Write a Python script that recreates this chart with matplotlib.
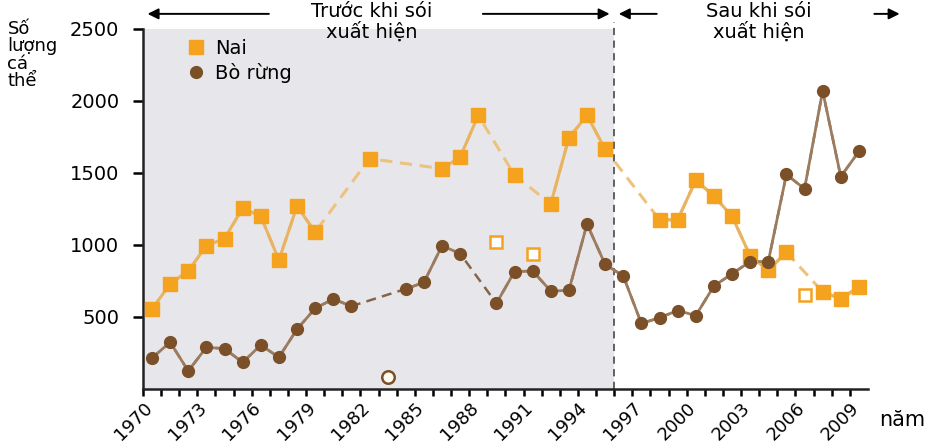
import matplotlib.pyplot as plt
from matplotlib.lines import Line2D
import numpy as np

nan = np.nan
years = np.arange(1970, 2010)

# Nai (deer) - nan = no count that year
nai = [555, 730, 820, 995, 1045, 1255, 1200, 895, 1270, 1090,
       nan, nan, 1600, nan, nan, nan, 1530, 1610, 1900, nan,
       1485, nan, 1285, 1745, 1900, 1665, nan, nan, 1175, 1175,
       1450, 1340, 1200, 925, 825, 950, nan, 675, 625, 710]
# Bo rung (bison)
bo = [215, 325, 125, 290, 280, 185, 305, 220, 415, 560,
      625, 575, nan, nan, 695, 740, 995, 940, nan, 595,
      815, 820, 680, 685, 1145, 865, 785, 455, 495, 545,
      510, 715, 800, 885, 885, 1490, 1390, 2070, 1475, 1650]

# hollow markers (uncertain counts)
nai_hollow_years = [1989, 1991, 2006]
nai_hollow = [1020, 940, 655]
bo_hollow_years = [1983]
bo_hollow = [85]

yticks = [500, 1000, 1500, 2000, 2500]
xlabels = list(range(1970, 2010, 3))
wolf_year = 1996

orange = '#F5A31E'
orange_line = '#E9B462'
orange_dash = '#EDC27E'
brown = '#7B5028'
brown_line = '#9C7C5E'
brown_dash = '#85654A'

plt.rcParams['font.family'] = ['DejaVu Sans']

fig = plt.figure(figsize=(9.35, 4.46), dpi=100)
ax = fig.add_axes([0.1529, 0.1278, 0.7754, 0.8072])

x = years + 0.5
nai = np.array(nai, dtype=float)
bo = np.array(bo, dtype=float)

ax.axvspan(1970, wolf_year, color='#E7E7EB', zorder=0, lw=0)
ax.axvline(wolf_year, ymin=0, ymax=1.02, color='#555555', ls=(0, (4, 3)), lw=1.3, clip_on=False, zorder=1)

# dashed links across missing years, solid where consecutive
m = ~np.isnan(nai)
ax.plot(x[m], nai[m], color=orange_dash, lw=2.2, ls=(0, (4, 2.5)), zorder=2)
ax.plot(x, nai, color=orange_line, lw=2.2, zorder=3)
m = ~np.isnan(bo)
ax.plot(x[m], bo[m], color=brown_dash, lw=1.8, ls=(0, (4, 2.5)), zorder=2)
ax.plot(x, bo, color=brown_line, lw=2.0, zorder=3)

ax.plot(x, nai, ls='none', marker='s', ms=9.5, color=orange, mec=orange, zorder=4)
ax.plot(x, bo, ls='none', marker='o', ms=8.5, color=brown, mec=brown, zorder=4)
ax.plot(np.array(nai_hollow_years) + 0.5, nai_hollow, ls='none', marker='s', ms=8.5,
        mfc='white', mec=orange, mew=1.8, zorder=4)
ax.plot(np.array(bo_hollow_years) + 0.5, bo_hollow, ls='none', marker='o', ms=9,
        mfc='#FFFBEF', mec=brown, mew=1.8, zorder=4)

ax.set_xlim(1970, 2010)
ax.set_ylim(0, 2500)
ax.set_yticks(yticks)
ax.set_xticks(xlabels)
ax.set_xticks(years, minor=True)
ax.set_xticklabels([str(v) for v in xlabels], rotation=45, ha='right',
                   rotation_mode='anchor', fontsize=13)
ax.tick_params(axis='y', labelsize=14, length=7, width=1.8, pad=10, direction='out')
ax.tick_params(axis='x', which='both', length=5, width=1.8, direction='out', pad=2)
for s in ['top', 'right']:
    ax.spines[s].set_visible(False)
for s in ['left', 'bottom']:
    ax.spines[s].set_linewidth(1.8)
    ax.spines[s].set_color('#222222')

handles = [Line2D([], [], ls='none', marker='s', ms=9.5, color=orange),
           Line2D([], [], ls='none', marker='o', ms=8.5, color=brown)]
ax.legend(handles, ['Nai', 'Bò rừng'], loc='upper left', bbox_to_anchor=(0.035, 1.02),
          frameon=False, fontsize=14, handlelength=1.0, handletextpad=0.5,
          labelspacing=0.25)

fig.text(0.008, 0.955, 'Số\nlượng\ncá\nthể', fontsize=13, va='top', ha='left',
         linespacing=0.95)
fig.text(0.94, 0.058, 'năm', fontsize=15, va='center', ha='left')

# period annotations above the axes
ya = 1.042
arr = dict(arrowstyle='-|>', color='black', lw=1.4, mutation_scale=16)
tr = ax.get_xaxis_transform()
ax.annotate('', xy=(1970.1, ya), xytext=(1977.1, ya), xycoords=tr, textcoords=tr, arrowprops=arr)
ax.annotate('', xy=(1995.9, ya), xytext=(1988.6, ya), xycoords=tr, textcoords=tr, arrowprops=arr)
ax.annotate('', xy=(1996.1, ya), xytext=(1998.5, ya), xycoords=tr, textcoords=tr, arrowprops=arr)
ax.annotate('', xy=(2011.9, ya), xytext=(2010.2, ya), xycoords=tr, textcoords=tr, arrowprops=arr)
ax.text(1982.6, 1.02, 'Trước khi sói\nxuất hiện', transform=tr, ha='center', va='center',
        fontsize=14, linespacing=1.0, clip_on=False)
ax.text(2004.0, 1.02, 'Sau khi sói\nxuất hiện', transform=tr, ha='center', va='center',
        fontsize=14, linespacing=1.0, clip_on=False)

fig.savefig('out.png', dpi=100)
